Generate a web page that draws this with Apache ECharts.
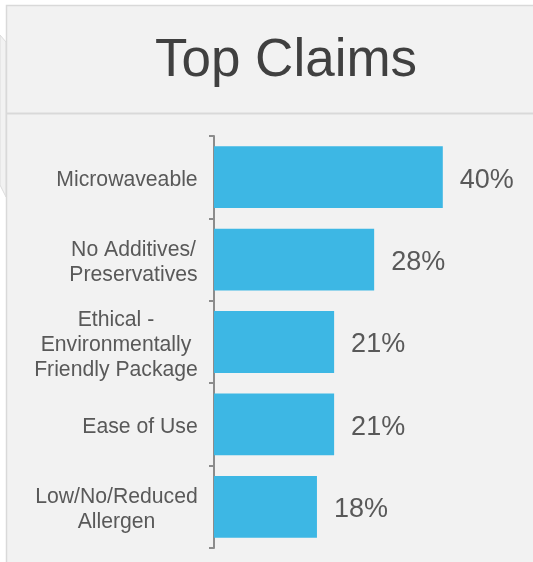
<!DOCTYPE html>
<html>
<head>
<meta charset="utf-8">
<title>Top Claims</title>
<script src="https://cdn.jsdelivr.net/npm/echarts@6/dist/echarts.min.js"></script>
<style>
  html, body { margin: 0; padding: 0; background: #ffffff; }
  #chart { width: 533px; height: 562px; }
</style>
</head>
<body>
<div id="chart"></div>
<script>
// Claim categories, top to bottom
const claims = [
  'Microwaveable',
  'No Additives/\nPreservatives',
  'Ethical -\nEnvironmentally\nFriendly Package',
  'Ease of Use',
  'Low/No/Reduced\nAllergen'
];
// Share of products carrying each claim (%)
const shares = [40, 28, 21, 21, 18];

const textFont = '"Liberation Sans", Arial, sans-serif';
const catFontSize = 21.2;

// Measure each label's widest line so that its lines can be centred
// inside a block that is right-aligned against the axis.
const measureCtx = document.createElement('canvas').getContext('2d');
measureCtx.font = catFontSize + 'px ' + textFont;
const catRich = {};
claims.forEach(function (name, i) {
  const w = Math.max.apply(null, name.split('\n').map(function (s) {
    return measureCtx.measureText(s).width;
  }));
  catRich['c' + i] = { width: Math.ceil(w), align: 'center' };
});

const chart = echarts.init(document.getElementById('chart'), null, { renderer: 'canvas' });

chart.setOption({
  animation: false,
  backgroundColor: '#ffffff',
  graphic: [
    // small tab peeking out on the left edge
    {
      type: 'polygon',
      z: -10,
      shape: { points: [[0, 35], [6, 42], [6, 197], [0, 185]] },
      style: { fill: '#f2f2f2', stroke: '#dcdcdc', lineWidth: 1 }
    },
    // main panel
    {
      type: 'rect',
      z: -9,
      shape: { x: 6.5, y: 5.5, width: 560, height: 600 },
      style: { fill: '#f2f2f2', stroke: '#d9d9d9', lineWidth: 1.5 }
    },
    // header divider
    {
      type: 'line',
      z: -8,
      shape: { x1: 7, y1: 113.5, x2: 533, y2: 113.5 },
      style: { stroke: '#d9d9d9', lineWidth: 2 }
    },
    {
      type: 'text',
      x: 286,
      y: 61,
      style: {
        text: 'Top Claims',
        font: '53px ' + textFont,
        fill: '#404040',
        align: 'center',
        verticalAlign: 'middle'
      }
    }
  ],
  grid: {
    left: 214,
    right: 33,
    top: 136,
    bottom: 14,
    containLabel: false
  },
  xAxis: {
    type: 'value',
    min: 0,
    max: 50,
    show: false
  },
  yAxis: {
    type: 'category',
    data: claims,
    inverse: true,
    axisLine: { show: true, lineStyle: { color: '#8c8c8c', width: 2 } },
    axisTick: { show: true, length: 5, lineStyle: { color: '#8c8c8c', width: 2 } },
    splitLine: { show: false },
    axisLabel: {
      margin: 16,
      color: '#595959',
      fontFamily: textFont,
      fontSize: catFontSize,
      lineHeight: 25,
      align: 'right',
      padding: [6, 0, 0, 0],
      formatter: function (value, index) {
        return value.split('\n').map(function (line) {
          return '{c' + index + '|' + line + '}';
        }).join('\n');
      },
      rich: catRich
    }
  },
  series: [{
    type: 'bar',
    data: shares,
    barCategoryGap: '25%',
    itemStyle: { color: '#3db7e4' },
    label: {
      show: true,
      position: 'right',
      distance: 17,
      offset: [0, 3],
      formatter: '{c}%',
      color: '#595959',
      fontFamily: textFont,
      fontSize: 27
    }
  }]
});
</script>
</body>
</html>
